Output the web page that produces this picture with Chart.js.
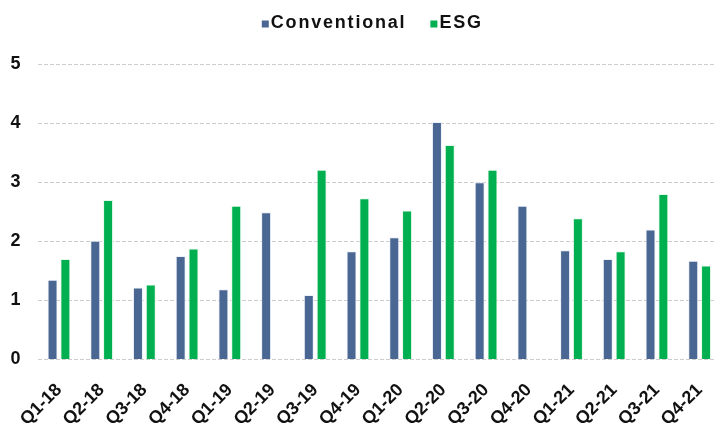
<!DOCTYPE html>
<html>
<head>
<meta charset="utf-8">
<script src="https://cdn.jsdelivr.net/npm/chart.js@4/dist/chart.umd.min.js"></script>
<style>
  html, body { margin: 0; padding: 0; background: #fff; overflow: hidden; }
  #wrap { width: 722px; height: 423px; }
</style>
</head>
<body>
<div id="wrap"><canvas id="c" width="722" height="423"></canvas></div>
<script>
// Quarterly values, Q1-2018 to Q4-2021
const quarters = ['Q1-18','Q2-18','Q3-18','Q4-18','Q1-19','Q2-19','Q3-19','Q4-19',
                  'Q1-20','Q2-20','Q3-20','Q4-20','Q1-21','Q2-21','Q3-21','Q4-21'];
const conventional = [1.35, 2.01, 1.22, 1.75, 1.19, 2.49, 1.09, 1.83,
                      2.07, 4.02, 3.00, 2.60, 1.85, 1.70, 2.20, 1.67];
const esg = [1.70, 2.70, 1.27, 1.88, 2.60, null, 3.21, 2.73,
             2.52, 3.63, 3.21, null, 2.39, 1.83, 2.80, 1.59];
const yTicks = [0, 1, 2, 3, 4, 5];

const FONT = '"Liberation Sans", Arial, sans-serif';
const BLUE = '#4a6794';
const GREEN = '#00b050';

// Compact legend: small square swatch right against a spaced-out bold label
const topLegend = {
  id: 'topLegend',
  afterDraw(chart) {
    const ctx = chart.ctx;
    const area = chart.chartArea;
    ctx.save();
    ctx.font = 'bold 18px ' + FONT;
    ctx.letterSpacing = '1.8px';
    ctx.textBaseline = 'middle';
    const items = chart.data.datasets.map(ds => ({
      text: ds.label, color: ds.backgroundColor, w: ctx.measureText(ds.label).width
    }));
    const sw = 7, gapIn = 2, gapOut = 24;
    let total = 0;
    items.forEach((it, i) => { total += sw + gapIn + it.w + (i < items.length - 1 ? gapOut : 0); });
    let x = (area.left + area.right) / 2 - total / 2 - 7;
    const cy = 23;
    items.forEach(it => {
      ctx.fillStyle = it.color;
      ctx.fillRect(x, cy - 2.5, sw, sw);
      x += sw + gapIn;
      ctx.fillStyle = '#111';
      ctx.fillText(it.text, x, cy);
      x += it.w + gapOut;
    });
    ctx.restore();
  }
};

new Chart(document.getElementById('c'), {
  type: 'bar',
  data: {
    labels: quarters,
    datasets: [
      { label: 'Conventional', data: conventional, backgroundColor: BLUE,
        borderColor: 'rgba(235,240,248,0.9)', borderWidth: 1,
        barPercentage: 0.78, categoryPercentage: 0.6 },
      { label: 'ESG', data: esg, backgroundColor: GREEN,
        borderColor: 'rgba(225,248,232,0.9)', borderWidth: 1,
        barPercentage: 0.78, categoryPercentage: 0.6 }
    ]
  },
  options: {
    responsive: false,
    animation: false,
    layout: { padding: { top: 64, right: 1, left: 0, bottom: 0 } },
    plugins: { legend: { display: false }, tooltip: { enabled: false } },
    scales: {
      x: {
        grid: { display: false },
        border: { display: false },
        ticks: {
          color: '#111',
          font: { family: FONT, size: 18, weight: 'bold' },
          maxRotation: 45, minRotation: 45, autoSkip: false, padding: 12
        },
        afterFit(scale) {
          // slanted labels hang left of their ticks, so no side room is needed
          scale.height = 63.5;
          scale.paddingLeft = 0;
          scale.paddingRight = 0;
        }
      },
      y: {
        min: 0, max: 5,
        afterBuildTicks(scale) { scale.ticks = yTicks.map(v => ({ value: v })); },
        grid: { color: '#cdcdcd', lineWidth: 1, drawTicks: false },
        border: { display: false, dash: [4, 2] },
        ticks: {
          color: '#111',
          font: { family: FONT, size: 18, weight: 'bold' },
          padding: 17
        },
        afterFit(scale) { scale.width = 37.6; }
      }
    }
  },
  plugins: [topLegend]
});
</script>
</body>
</html>
